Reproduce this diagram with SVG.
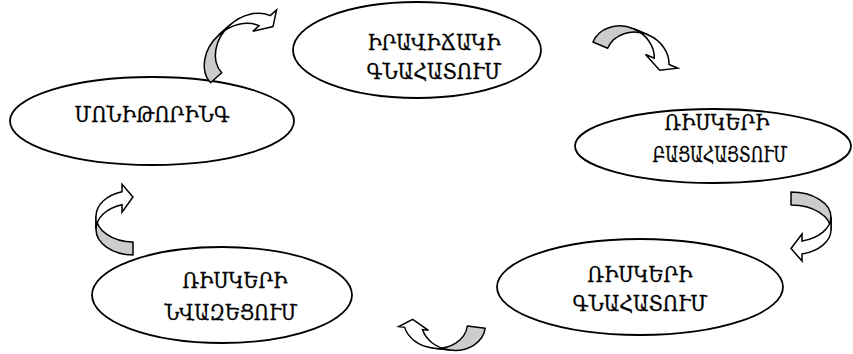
<svg xmlns="http://www.w3.org/2000/svg" width="853" height="354" viewBox="0 0 853 354">
<style>
.node ellipse{fill:#fff;stroke:#000;stroke-width:1.8}
.node text{font-family:"DejaVu Serif","DejaVu Sans",serif;font-size:22px;text-anchor:middle;fill:#000;stroke:#000;stroke-width:0.3}
.back{fill:#cccccc;stroke:#000;stroke-width:1.5;stroke-linejoin:round}
.front{fill:#fff;stroke:#000;stroke-width:1.5;stroke-linejoin:miter}
</style>
<rect width="853" height="354" fill="#fff"/>
<g id="n-assess" class="node">
<ellipse cx="417" cy="50" rx="124" ry="48"/>
<text x="434" y="50" textLength="133" lengthAdjust="spacingAndGlyphs">ԻՐԱՎԻՃԱԿԻ</text>
<text x="434" y="79" textLength="135" lengthAdjust="spacingAndGlyphs">ԳՆԱՀԱՏՈՒՄ</text>
</g>
<g id="n-identify" class="node">
<ellipse cx="713" cy="146" rx="138" ry="37"/>
<text x="717" y="130" textLength="105" lengthAdjust="spacingAndGlyphs">ՌԻՍԿԵՐԻ</text>
<text x="720" y="162" textLength="135" lengthAdjust="spacingAndGlyphs">ԲԱՑԱՀԱՅՏՈՒՄ</text>
</g>
<g id="n-evaluate" class="node">
<ellipse cx="640" cy="287" rx="143" ry="48"/>
<text x="640" y="282" textLength="105" lengthAdjust="spacingAndGlyphs">ՌԻՍԿԵՐԻ</text>
<text x="640" y="311" textLength="135" lengthAdjust="spacingAndGlyphs">ԳՆԱՀԱՏՈՒՄ</text>
</g>
<g id="n-reduce" class="node">
<ellipse cx="222" cy="295" rx="130" ry="48"/>
<text x="235" y="288" textLength="105" lengthAdjust="spacingAndGlyphs">ՌԻՍԿԵՐԻ</text>
<text x="231" y="320" textLength="133" lengthAdjust="spacingAndGlyphs">ՆՎԱԶԵՑՈՒՄ</text>
</g>
<g id="n-monitor" class="node">
<ellipse cx="152" cy="121" rx="142" ry="44"/>
<text x="152" y="122" textLength="155" lengthAdjust="spacingAndGlyphs">ՄՈՆԻԹՈՐԻՆԳ</text>
</g>
<g id="connectors">
<g id="arrow-a" transform="translate(190.5,60.5) rotate(-42) matrix(0,1,1,0,0,0)">
<path class="back" d="M30,0 A30,38.25 0 0 0 0,38.25 L0,53.25 A30,38.25 0 0 1 30,15 Z"/>
<path class="front" d="M0,38.25 A30,38.25 0 0 0 20,74.31 L20,65.81 L30,84 L20,97.81 L20,89.31 A30,38.25 0 0 1 0,53.25 Z"/>
</g>
<g id="arrow-b" transform="translate(603.9,16.2) rotate(23) matrix(0,1,1,0,0,0)">
<path class="back" d="M28,0 A28,32.25 0 0 0 0,32.25 L0,48.25 A28,32.25 0 0 1 28,16 Z"/>
<path class="front" d="M0,32.25 A28,32.25 0 0 0 19,62.79 L19,53.29 L28,72.5 L19,88.29 L19,78.79 A28,32.25 0 0 1 0,48.25 Z"/>
</g>
<g id="arrow-c" transform="translate(831,192) scale(-1,1)">
<path class="back" d="M40,0 A40,25 0 0 0 0,25 L0,38 A40,25 0 0 1 40,13 Z"/>
<path class="front" d="M0,25 A40,25 0 0 0 29,49.03 L29,42.03 L40,56.5 L29,69.03 L29,62.03 A40,25 0 0 1 0,38 Z"/>
</g>
<g id="arrow-d" transform="translate(482,354) rotate(187) matrix(0,1,1,0,0,0)">
<path class="back" d="M26,0 A26,32 0 0 0 0,32 L0,50 A26,32 0 0 1 26,18 Z"/>
<path class="front" d="M0,32 A26,32 0 0 0 17,62.02 L17,56.02 L26,73 L17,86.02 L17,80.02 A26,32 0 0 1 0,50 Z"/>
</g>
<g id="arrow-e" transform="translate(96,255) scale(1,-1)">
<path class="back" d="M37,0 A37,25.75 0 0 0 0,25.75 L0,38.75 A37,25.75 0 0 1 37,13 Z"/>
<path class="front" d="M0,25.75 A37,25.75 0 0 0 26,50.34 L26,42.84 L37,58 L26,70.84 L26,63.34 A37,25.75 0 0 1 0,38.75 Z"/>
</g>
</g>
</svg>
